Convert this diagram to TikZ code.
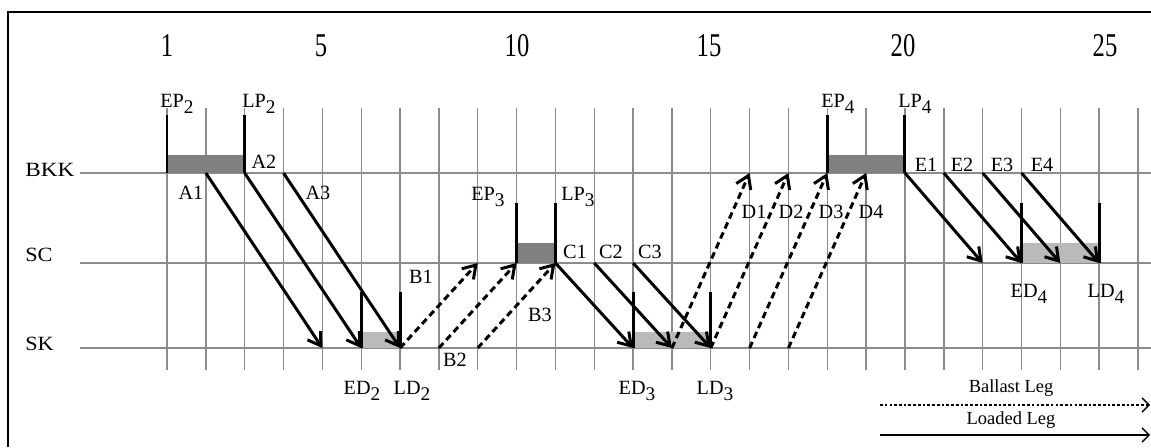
\documentclass[tikz,border=0pt]{standalone}
\usepackage{fontspec}
\setmainfont{Liberation Serif}
\usetikzlibrary{arrows.meta,calc}
\newcommand{\lsub}[1]{\raisebox{-0.65ex}{\fontsize{11}{11}\selectfont #1}}
\begin{document}
\begin{tikzpicture}[x=0.02cm,y=-0.02cm,
  grid/.style={black!45,line width=0.8pt},
  frameline/.style={line width=1.6pt},
  marker/.style={line width=1.7pt},
  loadwin/.style={fill=black!50},
  dischwin/.style={fill=black!27},
  loaded/.style={line width=1.7pt,-{Straight Barb[length=7pt,width=9pt]}},
  ballast/.style={loaded,dash pattern=on 3.8pt off 2.4pt},
  lbl/.style={inner sep=0pt,font=\fontsize{11.5}{12}\selectfont},
  num/.style={inner sep=0pt,font=\fontsize{14}{14}\selectfont},
  lgd/.style={inner sep=0pt,font=\fontsize{10.5}{11}\selectfont},
  lgdarrow/.style={line width=0.8pt,-{Straight Barb[length=4pt,width=8pt]}}
]
\useasboundingbox (0,0) rectangle (1151,447);
% frame
\draw[frameline] (8,447) -- (8,12) -- (1151,12);
% grid
\foreach \i in {1,...,26}{
  \coordinate (T\i) at ({128.16+38.84*\i},108);
  \coordinate (B\i) at ({128.16+38.84*\i},173);
  \coordinate (S\i) at ({128.16+38.84*\i},263);
  \coordinate (K\i) at ({128.16+38.84*\i},348);
  \coordinate (U\i) at ({128.16+38.84*\i},370);
  \draw[grid] (T\i) -- (U\i);
}
\coordinate (bkkL) at (80,173); \coordinate (bkkR) at (1151,173);
\coordinate (scL) at (80,263);  \coordinate (scR) at (1151,263);
\coordinate (skL) at (80,348);  \coordinate (skR) at (1151,348);
\draw[grid] (bkkL) -- (bkkR);
\draw[grid] (scL) -- (scR);
\draw[grid] (skL) -- (skR);
% row labels
\node[lbl,anchor=west] (bkk) at (25,170) {\scalebox{1.15}[1]{BKK}};
\node[lbl,anchor=west] (sc) at (25,255) {\scalebox{1.1}[1]{SC}};
\node[lbl,anchor=west] (sk) at (25,344) {\scalebox{1.1}[1]{SK}};
% numbers
\node[num] (n1) at (167,46) {\scalebox{1}[1.35]{1}};
\node[num] (n5) at (321,46) {\scalebox{1}[1.35]{5}};
\node[num] (n10) at (517,46) {\scalebox{1}[1.35]{10}};
\node[num] (n15) at (709,46) {\scalebox{1}[1.35]{15}};
\node[num] (n20) at (903,46) {\scalebox{1}[1.35]{20}};
\node[num] (n25) at (1105,46) {\scalebox{1}[1.35]{25}};
% windows
\fill[loadwin] (B1) rectangle ($(B3)+(0,-18)$);
\fill[loadwin] (B18) rectangle ($(B20)+(0,-18)$);
\fill[loadwin] (S10) rectangle ($(S11)+(0,-20)$);
\fill[dischwin] (S23) rectangle ($(S25)+(0,-20)$);
\fill[dischwin] (K6) rectangle ($(K7)+(0,-16)$);
\fill[dischwin] (K13) rectangle ($(K15)+(0,-16)$);
% markers
\draw[marker] (B1) -- ($(B1)+(0,-58)$);
\draw[marker] (B3) -- ($(B3)+(0,-58)$);
\draw[marker] (B18) -- ($(B18)+(0,-58)$);
\draw[marker] (B20) -- ($(B20)+(0,-58)$);
\draw[marker] (S10) -- ($(S10)+(0,-60)$);
\draw[marker] (S11) -- ($(S11)+(0,-60)$);
\draw[marker] (S23) -- ($(S23)+(0,-60)$);
\draw[marker] (S25) -- ($(S25)+(0,-60)$);
\draw[marker] (K6) -- ($(K6)+(0,-56)$);
\draw[marker] (K7) -- ($(K7)+(0,-56)$);
\draw[marker] (K13) -- ($(K13)+(0,-56)$);
\draw[marker] (K15) -- ($(K15)+(0,-56)$);
% marker labels
\node[lbl] (ep2) at (177,104) {EP\lsub{2}};
\node[lbl] (lp2) at (259,104) {LP\lsub{2}};
\node[lbl] (ep3) at (488,197) {EP\lsub{3}};
\node[lbl] (lp3) at (578,197) {LP\lsub{3}};
\node[lbl] (ep4) at (838,104) {EP\lsub{4}};
\node[lbl] (lp4) at (915,104) {LP\lsub{4}};
\node[lbl] (ed2) at (362,391) {ED\lsub{2}};
\node[lbl] (ld2) at (412,391) {LD\lsub{2}};
\node[lbl] (ed3) at (637,391) {ED\lsub{3}};
\node[lbl] (ld3) at (715,391) {LD\lsub{3}};
\node[lbl] (ed4) at (1029,294) {ED\lsub{4}};
\node[lbl] (ld4) at (1106,294) {LD\lsub{4}};
% loaded legs
\draw[loaded] (B2) -- (K5);
\draw[loaded] (B3) -- (K6);
\draw[loaded] (B4) -- (K7);
\draw[loaded] (S11) -- (K13);
\draw[loaded] (S12) -- (K14);
\draw[loaded] (S13) -- (K15);
\draw[loaded] (B20) -- (S22);
\draw[loaded] (B21) -- (S23);
\draw[loaded] (B22) -- (S24);
\draw[loaded] (B23) -- (S25);
% ballast legs
\draw[ballast] (K7) -- (S9);
\draw[ballast] (K8) -- (S10);
\draw[ballast] (K9) -- (S11);
\draw[ballast] (K14) -- (B16);
\draw[ballast] (K15) -- (B17);
\draw[ballast] (K16) -- (B18);
\draw[ballast] (K17) -- (B19);
% leg labels
\node[lbl] (a1) at (191,193) {A1};
\node[lbl] (a2) at (264,162) {A2};
\node[lbl] (a3) at (318,193) {A3};
\node[lbl] (b1) at (421,277) {B1};
\node[lbl] (b2) at (455,360) {B2};
\node[lbl] (b3) at (540,315) {B3};
\node[lbl] (c1) at (575,252) {C1};
\node[lbl] (c2) at (611,252) {C2};
\node[lbl] (c3) at (650,252) {C3};
\node[lbl] (d1) at (754,212) {D1};
\node[lbl] (d2) at (791,212) {D2};
\node[lbl] (d3) at (831,212) {D3};
\node[lbl] (d4) at (871,212) {D4};
\node[lbl] (e1) at (926,165) {E1};
\node[lbl] (e2) at (962,165) {E2};
\node[lbl] (e3) at (1002,165) {E3};
\node[lbl] (e4) at (1042,165) {E4};
% legend
\node[lgd] (ballastlbl) at (1011,388) {Ballast Leg};
\node[lgd] (loadedlbl) at (1011,420) {Loaded Leg};
\coordinate (bla) at (880,405); \coordinate (blb) at (1150,405);
\coordinate (lla) at (880,435); \coordinate (llb) at (1150,435);
\draw[lgdarrow,dash pattern=on 1.5pt off 1.2pt] (bla) -- (blb);
\draw[lgdarrow] (lla) -- (llb);
\end{tikzpicture}
\end{document}
